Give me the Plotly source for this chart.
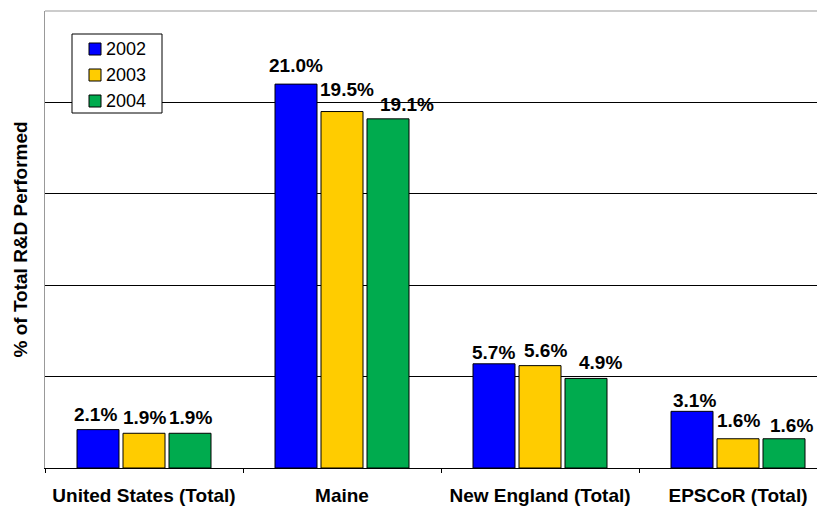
import plotly.graph_objects as go

categories = ["United States (Total)", "Maine", "New England (Total)", "EPSCoR (Total)"]
years = ["2002", "2003", "2004"]
values_2002 = [2.1, 21.0, 5.7, 3.1]
values_2003 = [1.9, 19.5, 5.6, 1.6]
values_2004 = [1.9, 19.1, 4.9, 1.6]
series = [values_2002, values_2003, values_2004]
colors = ["#0000FF", "#FFCC00", "#00AB4E"]

# small label nudges (px) mimicking the original label placement
label_dx = [[-2, 0, 0, 3], [0, 5, 5, 0], [0, 19, 14, 7]]
label_dy = [[0, 3, -4, -5], [0, 7, 0, 3], [0, -1, 0, -2]]

FONT = "Liberation Sans, Arial, sans-serif"

# page body has an 8px margin; compensate so the plot lands where the reference has it
BODY = 8
W, H = 825 - BODY, 506 - BODY
ML, MT, MB, MR = 45 - BODY, 11 - BODY, 38, 0
plot_w = W - ML - MR
plot_h = H - MT - MB
PX0, PY0 = 45, 11          # plot-area origin in page pixels
cat_w = 198.0
bargap = 0.303
slot = cat_w * (1 - bargap) / len(series)


def px_x(px):
    return (px - PX0) / plot_w


def px_y(py):
    return 1 - (py - PY0) / plot_h


fig = go.Figure()
for name, vals, col in zip(years, series, colors):
    fig.add_trace(go.Bar(
        x=categories, y=vals, name=name,
        marker=dict(color=col, line=dict(color="black", width=1)),
        hoverinfo="skip", showlegend=False,
    ))

annotations = []
for i, vals in enumerate(series):
    for j, (cat, v) in enumerate(zip(categories, vals)):
        annotations.append(dict(
            x=cat, y=v, xref="x", yref="y", text=f"{v:.1f}%",
            showarrow=False, xanchor="center", yanchor="bottom",
            xshift=(i - 1) * slot + label_dx[i][j], yshift=4 + label_dy[i][j],
            borderpad=0,
            font=dict(family=FONT, size=19, color="black", weight="bold"),
        ))

annotations.append(dict(
    text="% of Total R&D Performed", xref="paper", yref="paper",
    x=0, y=0.5, xshift=-25, xanchor="center", yanchor="middle",
    textangle=-90, showarrow=False,
    font=dict(family=FONT, size=19, color="black", weight="bold"),
))

# legend (drawn as a boxed key in the upper-left of the plot)
shapes = [
    dict(type="line", xref="paper", yref="paper", x0=0, x1=1, y0=1, y1=1,
         line=dict(color="#999999", width=1)),
    dict(type="rect", xref="paper", yref="paper",
         x0=px_x(72), x1=px_x(162), y0=px_y(34), y1=px_y(113),
         fillcolor="white", line=dict(color="black", width=1), layer="above"),
]
for k, (name, col) in enumerate(zip(years, colors)):
    cy = 49 + 26 * k
    shapes.append(dict(
        type="rect", xref="paper", yref="paper",
        x0=px_x(89), x1=px_x(101), y0=px_y(cy - 6), y1=px_y(cy + 6),
        fillcolor=col, line=dict(color="black", width=1), layer="above",
    ))
    annotations.append(dict(
        text=name, xref="paper", yref="paper", x=px_x(105), y=px_y(cy),
        xanchor="left", yanchor="middle", showarrow=False, borderpad=0,
        font=dict(family=FONT, size=18, color="black"),
    ))

fig.update_layout(
    width=W, height=H,
    margin=dict(l=ML, r=MR, t=MT, b=MB, pad=0),
    paper_bgcolor="white", plot_bgcolor="white",
    barmode="group", bargap=bargap, bargroupgap=0.087,
    font=dict(family=FONT, size=18, color="black"),
    showlegend=False,
    xaxis=dict(
        range=[-0.5, -0.5 + plot_w / cat_w],
        showline=True, linecolor="black", linewidth=1,
        ticks="outside", tickson="boundaries", ticklen=4, tickcolor="black",
        ticklabelstandoff=10,
        tickfont=dict(family=FONT, size=19, color="black", weight="bold"),
        showgrid=False, zeroline=False,
    ),
    yaxis=dict(
        range=[0, 25], dtick=5,
        showticklabels=False, ticks="",
        showgrid=True, gridcolor="black", gridwidth=1,
        showline=True, linecolor="#999999", linewidth=1,
        zeroline=False,
    ),
    shapes=shapes,
    annotations=annotations,
)

fig.write_html("out.html")
